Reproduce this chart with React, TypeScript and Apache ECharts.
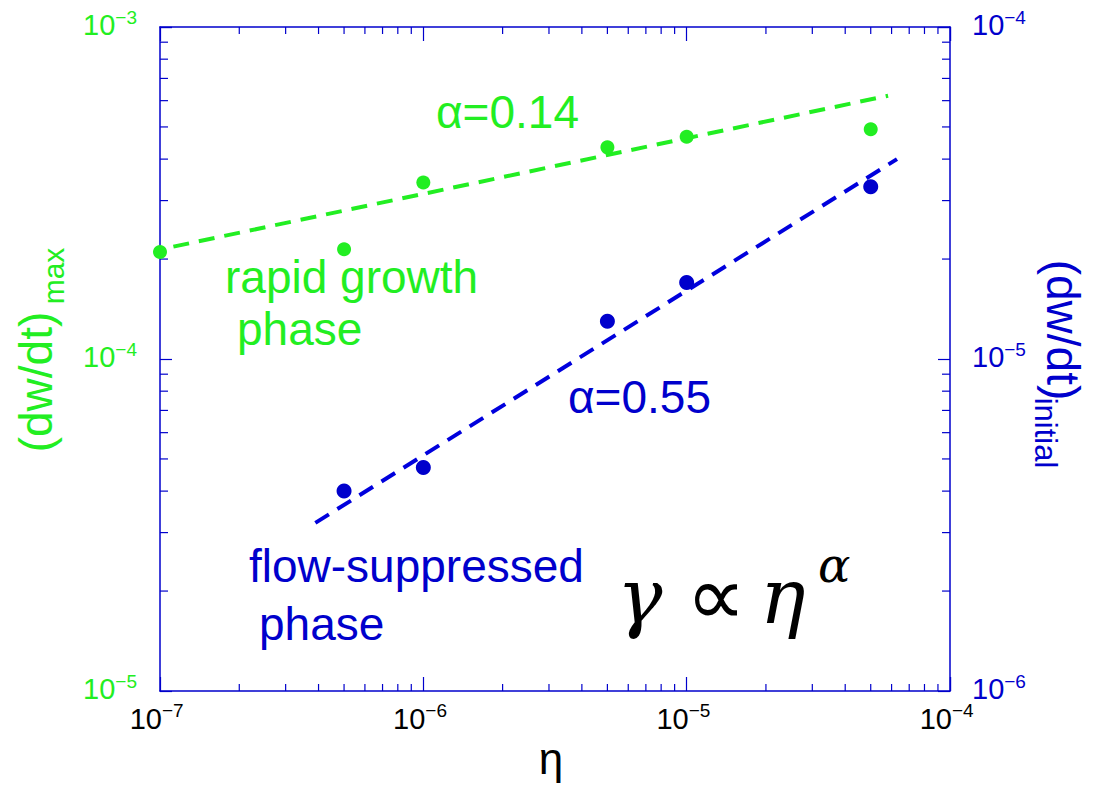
import React, { useEffect, useRef } from "react";
import * as echarts from "echarts";

// ---- data ----
const etaMax = [1e-7, 5e-7, 1e-6, 5e-6, 1e-5, 5e-5];
const rateMax = [2.1e-4, 2.14e-4, 3.4e-4, 4.34e-4, 4.67e-4, 4.92e-4];
const etaInit = [5e-7, 1e-6, 5e-6, 1e-5, 5e-5];
const rateInit = [4.0e-6, 4.71e-6, 1.3e-5, 1.7e-5, 3.3e-5];
const fitMaxEta = [9e-8, 5.82e-5];
const fitMaxRate = [2.1e-4, 6.21e-4];
const fitInitEta = [3.89e-7, 6.29e-5];
const fitInitRate = [3.21e-6, 4.0e-5];

// tick labels (value, exponent text)
const xTickValues = [1e-7, 1e-6, 1e-5, 1e-4];
const xTickExps = ["\u22127", "\u22126", "\u22125", "\u22124"];
const yLeftTickValues = [1e-5, 1e-4, 1e-3];
const yLeftTickExps = ["\u22125", "\u22124", "\u22123"];
const yRightTickValues = [1e-6, 1e-5, 1e-4];
const yRightTickExps = ["\u22126", "\u22125", "\u22124"];

const minorMultipliers = [2, 3, 4, 5, 6, 7, 8, 9];
const xDecades = [1e-7, 1e-6, 1e-5];
const yDecades = [1e-5, 1e-4];

const GREEN = "#22ee22";
const BLUE = "#0000cc";
const SANS = "Liberation Sans";
const MATH = "DejaVu Serif";
const BASE_FS = 29;
const SUP_FS = 19;

const xMinor = xDecades.flatMap((d) => minorMultipliers.map((m) => m * d));
const yMinor = yDecades.flatMap((d) => minorMultipliers.map((m) => m * d));

function measure(text: string, size: number) {
  const c = document.createElement("canvas").getContext("2d");
  if (!c) return text.length * size * 0.56;
  c.font = `${size}px "${SANS}"`;
  return c.measureText(text).width;
}

function txt(x: number, y: number, text: string, fill: string, fontSize: number, align: string, extra: any = {}) {
  return {
    type: "text",
    x,
    y,
    silent: true,
    style: { text, fill, fontSize, fontFamily: SANS, align, verticalAlign: "middle", ...extra },
  };
}

export default function App() {
  const ref = useRef<HTMLDivElement>(null);
  useEffect(() => {
    if (!ref.current) return;
    const chart = echarts.init(ref.current, undefined, { renderer: "svg" });
    const axisLine = { show: true, lineStyle: { color: BLUE, width: 1.5 } };
    const majorTick = (len: number) => ({ show: true, inside: true, length: len, lineStyle: { color: BLUE, width: 1.2 } });
    const option: any = {
      animation: false,
      backgroundColor: "#ffffff",
      grid: { left: 160, right: 144, top: 27, bottom: 95, containLabel: false },
      xAxis: [
        { type: "log", logBase: 10, min: 1e-7, max: 1e-4, position: "bottom", axisLine, axisTick: majorTick(14), axisLabel: { show: false }, splitLine: { show: false } },
        { type: "log", logBase: 10, min: 1e-7, max: 1e-4, position: "top", axisLine, axisTick: majorTick(14), axisLabel: { show: false }, splitLine: { show: false } },
      ],
      yAxis: [
        { type: "log", logBase: 10, min: 1e-5, max: 1e-3, position: "left", axisLine, axisTick: majorTick(12), axisLabel: { show: false }, splitLine: { show: false } },
        { type: "log", logBase: 10, min: 1e-6, max: 1e-4, position: "right", axisLine, axisTick: majorTick(12), axisLabel: { show: false }, splitLine: { show: false } },
      ],
      series: [
        {
          type: "custom",
          xAxisIndex: 0,
          yAxisIndex: 0,
          silent: true,
          data: xMinor.map((v) => [v, 1e-4]),
          renderItem: (params: any, api: any) => {
            const cs = params.coordSys;
            const px = api.coord([api.value(0), 1e-4])[0];
            const st = { stroke: BLUE, lineWidth: 1.2 };
            return {
              type: "group",
              children: [
                { type: "line", shape: { x1: px, y1: cs.y + cs.height, x2: px, y2: cs.y + cs.height - 7 }, style: st },
                { type: "line", shape: { x1: px, y1: cs.y, x2: px, y2: cs.y + 7 }, style: st },
              ],
            };
          },
        },
        {
          type: "custom",
          xAxisIndex: 0,
          yAxisIndex: 0,
          silent: true,
          data: yMinor.map((v) => [1e-6, v]),
          renderItem: (params: any, api: any) => {
            const cs = params.coordSys;
            const py = api.coord([1e-6, api.value(1)])[1];
            const st = { stroke: BLUE, lineWidth: 1.2 };
            return {
              type: "group",
              children: [
                { type: "line", shape: { x1: cs.x, y1: py, x2: cs.x + 8, y2: py }, style: st },
                { type: "line", shape: { x1: cs.x + cs.width, y1: py, x2: cs.x + cs.width - 8, y2: py }, style: st },
              ],
            };
          },
        },
        {
          type: "line",
          xAxisIndex: 0,
          yAxisIndex: 0,
          data: fitMaxEta.map((x, i) => [x, fitMaxRate[i]]),
          symbol: "none",
          clip: false,
          lineStyle: { color: GREEN, width: 4, type: [16, 10] },
          z: 3,
        },
        {
          type: "line",
          xAxisIndex: 0,
          yAxisIndex: 1,
          data: fitInitEta.map((x, i) => [x, fitInitRate[i]]),
          symbol: "none",
          clip: false,
          lineStyle: { color: "#0000dd", width: 4, type: [16, 10] },
          z: 3,
        },
        {
          type: "scatter",
          xAxisIndex: 0,
          yAxisIndex: 0,
          data: etaMax.map((x, i) => [x, rateMax[i]]),
          symbol: "circle",
          symbolSize: 14,
          clip: false,
          itemStyle: { color: GREEN, opacity: 1 },
          z: 4,
        },
        {
          type: "scatter",
          xAxisIndex: 0,
          yAxisIndex: 1,
          data: etaInit.map((x, i) => [x, rateInit[i]]),
          symbol: "circle",
          symbolSize: 15,
          clip: false,
          itemStyle: { color: BLUE, opacity: 1 },
          z: 4,
        },
      ],
    };
    chart.setOption(option);

    // tick labels placed through the axes' own scales
    const tickGraphics: any[] = [];
    xTickValues.forEach((v, i) => {
      const px = chart.convertToPixel({ xAxisIndex: 0 }, v) as number;
      tickGraphics.push(txt(px + 2, 719, "10", "#000000", BASE_FS, "right"));
      tickGraphics.push(txt(px + 2, 710, xTickExps[i], "#000000", SUP_FS, "left"));
    });
    yLeftTickValues.forEach((v, i) => {
      const py = chart.convertToPixel({ yAxisIndex: 0 }, v) as number;
      const w = measure(yLeftTickExps[i], SUP_FS);
      tickGraphics.push(txt(137 - w, py - 2.5, "10", GREEN, BASE_FS, "right"));
      tickGraphics.push(txt(137, py - 10, yLeftTickExps[i], GREEN, SUP_FS, "right"));
    });
    yRightTickValues.forEach((v, i) => {
      const py = chart.convertToPixel({ yAxisIndex: 1 }, v) as number;
      const w = measure("10", BASE_FS);
      tickGraphics.push(txt(972, py - 2.5, "10", BLUE, BASE_FS, "left"));
      tickGraphics.push(txt(972 + w, py - 10, yRightTickExps[i], BLUE, SUP_FS, "left"));
    });

    const math = (x: number, y: number, text: string, size: number, italic: boolean, family: string = MATH) => ({
      type: "text",
      x,
      y,
      silent: true,
      style: { text, fill: "#000000", fontSize: size, fontFamily: family, fontStyle: italic ? "italic" : "normal", align: "left", verticalAlign: "middle" },
    });

    const graphics: any[] = [
      ...tickGraphics,
      // axis titles
      { type: "text", x: 36, y: 382, rotation: Math.PI / 2, style: { text: "(dw/dt)", fill: GREEN, fontSize: 46, fontFamily: SANS, align: "center", verticalAlign: "middle" } },
      { type: "text", x: 53, y: 276, rotation: Math.PI / 2, style: { text: "max", fill: GREEN, fontSize: 30, fontFamily: SANS, align: "center", verticalAlign: "middle" } },
      { type: "text", x: 1063, y: 330, rotation: -Math.PI / 2, style: { text: "(dw/dt)", fill: BLUE, fontSize: 46, fontFamily: SANS, align: "center", verticalAlign: "middle" } },
      { type: "text", x: 1045, y: 433, rotation: -Math.PI / 2, style: { text: "initial", fill: BLUE, fontSize: 31, fontFamily: SANS, align: "center", verticalAlign: "middle" } },
      txt(551, 758, "\u03b7", "#000000", 44, "center"),
      // annotations
      txt(436, 112, "\u03b1=0.14", GREEN, 46, "left"),
      txt(225, 277, "rapid growth", GREEN, 46, "left"),
      txt(237, 329, "phase", GREEN, 46, "left"),
      txt(568, 397, "\u03b1=0.55", BLUE, 46, "left"),
      txt(249, 566, "flow-suppressed", BLUE, 46, "left"),
      txt(259, 624, "phase", BLUE, 46, "left"),
      // formula
      math(617, 596, "\u03b3", 76, true),
      math(686, 596, "\u221d", 84, false, "Liberation Serif"),
      math(760, 596, "\u03b7", 76, true),
      math(818, 565, "\u03b1", 48, true),
    ];
    chart.setOption({ graphic: graphics });
    return () => chart.dispose();
  }, []);
  return (
    <div
      ref={ref}
      style={{ position: "fixed", left: 0, top: 0, width: 1094, height: 786, background: "#ffffff" }}
    />
  );
}
